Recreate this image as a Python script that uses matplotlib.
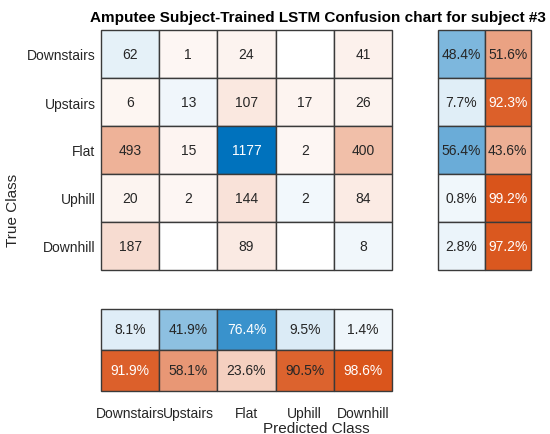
import numpy as np
import matplotlib.pyplot as plt
from matplotlib.patches import Rectangle

plt.rcParams['font.family'] = ['Liberation Sans', 'DejaVu Sans']

classes = ['Downstairs', 'Upstairs', 'Flat', 'Uphill', 'Downhill']
counts = np.array([
    [62, 1, 24, 0, 41],
    [6, 13, 107, 17, 26],
    [493, 15, 1177, 2, 400],
    [20, 2, 144, 2, 84],
    [187, 0, 89, 0, 8],
])
row_ok = [48.4, 7.7, 56.4, 0.8, 2.8]
row_bad = [51.6, 92.3, 43.6, 99.2, 97.2]
col_ok = [8.1, 41.9, 76.4, 9.5, 1.4]
col_bad = [91.9, 58.1, 23.6, 90.5, 98.6]

blue = np.array([0, 114, 189]) / 255
orange = np.array([217, 83, 25]) / 255


def shade(base, f):
    if f <= 0:
        return (1, 1, 1)
    a = 0.05 + 0.95 * f
    return tuple(1 - a * (1 - base))


def txtcol(c):
    lum = 0.299 * c[0] + 0.587 * c[1] + 0.114 * c[2]
    return 'white' if lum < 0.501 else '#262626'


def cell(ax, x, y, c, s):
    ax.add_patch(Rectangle((x, y), 1, 1, facecolor=c, edgecolor='#3a3a3a',
                           lw=1.0, clip_on=False))
    ax.text(x + 0.5, y + 0.5, s, ha='center', va='center', fontsize=10, color=txtcol(c))


fig = plt.figure(figsize=(5.5, 4.35), dpi=100)
W, H = 550, 435


def mkax(x0, y0, x1, y1):
    ax = fig.add_axes([x0 / W, 1 - y1 / H, (x1 - x0) / W, (y1 - y0) / H])
    ax.set_xticks([])
    ax.set_yticks([])
    for s in ax.spines.values():
        s.set_visible(False)
    return ax


n = len(classes)
mx = counts.max()

ax = mkax(101, 31, 392, 271)
ax.set_xlim(0, n)
ax.set_ylim(n, 0)
for i in range(n):
    for j in range(n):
        v = counts[i, j]
        c = shade(blue if i == j else orange, v / mx)
        cell(ax, j, i, c, str(v) if v > 0 else '')
ax.set_yticks(np.arange(n) + 0.5)
ax.set_yticklabels(classes, fontsize=10, color='#262626')
ax.tick_params(axis='y', length=0, pad=4)

axr = mkax(438, 31, 531, 271)
axr.set_xlim(0, 2)
axr.set_ylim(n, 0)
for i in range(n):
    c = shade(blue, row_ok[i] / 100)
    cell(axr, 0, i, c, f'{row_ok[i]:.1f}%')
    c = shade(orange, row_bad[i] / 100)
    cell(axr, 1, i, c, f'{row_bad[i]:.1f}%')

axc = mkax(101, 310, 392, 392)
axc.set_xlim(0, n)
axc.set_ylim(2, 0)
for j in range(n):
    c = shade(blue, col_ok[j] / 100)
    cell(axc, j, 0, c, f'{col_ok[j]:.1f}%')
    c = shade(orange, col_bad[j] / 100)
    cell(axc, j, 1, c, f'{col_bad[j]:.1f}%')
axc.set_xticks(np.arange(n) + 0.5)
axc.set_xticklabels(classes, fontsize=10, color='#262626')
axc.tick_params(axis='x', length=0, pad=11)

fig.text(318 / W, 1 - 18 / H, 'Amputee Subject-Trained LSTM Confusion chart for subject #3',
         ha='center', va='center', fontsize=11, fontweight='bold', color='black')
fig.text(316 / W, 1 - 429 / H, 'Predicted Class', ha='center', va='center',
         fontsize=11, color='#262626')
fig.text(13 / W, 1 - 210 / H, 'True Class', ha='center', va='center',
         rotation=90, fontsize=11, color='#262626')

fig.savefig('out.png', dpi=100)
